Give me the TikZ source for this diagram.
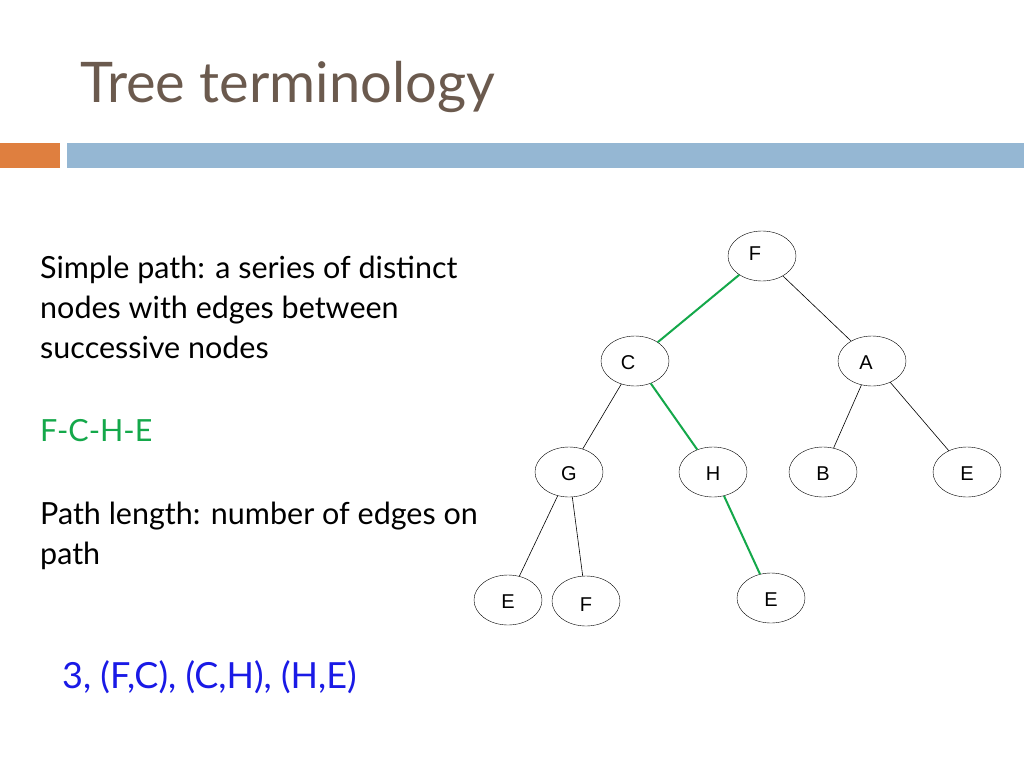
\documentclass[tikz,border=0pt]{standalone}
\usepackage{fontspec}
\setmainfont{Lato}
\newfontfamily\arial{Liberation Sans}
\usetikzlibrary{shapes.geometric}
\definecolor{titlec}{HTML}{6B5A4E}
\definecolor{orangec}{HTML}{DF7F3F}
\definecolor{bluec}{HTML}{95B7D3}
\definecolor{greenc}{HTML}{14A84A}
\definecolor{bluet}{HTML}{1A1AE6}
\begin{document}
\begin{tikzpicture}[x=1pt,y=-1pt,
  tn/.style={draw,ellipse,minimum width=68pt,minimum height=50pt,inner sep=0pt,font=\arial\fontsize{20}{24}\selectfont},
  ed/.style={draw,line width=0.6pt},
  gr/.style={draw=greenc,line width=2pt},
  txt/.style={anchor=base west,font=\fontsize{30.5}{36}\selectfont,inner sep=0pt}]
\useasboundingbox[fill=white] (0,0) rectangle (1024,768);
\node[anchor=base west,inner sep=0pt,text=titlec,font=\fontsize{56}{60}\selectfont] (title) at (80,102) {Tree terminology};
\fill[orangec] (0,143) rectangle (60,168);
\fill[bluec] (67,143) rectangle (1024,168);
\node[txt] (t1) at (40,278) {Simple path: a series of distinct};
\node[txt] (t2) at (40,318) {nodes with edges between};
\node[txt] (t3) at (40,358) {successive nodes};
\node[txt,text=greenc] (t4) at (40,441) {F-C-H-E};
\node[txt] (t5) at (40,524) {Path length: number of edges on};
\node[txt] (t6) at (40,564) {path};
\node[txt,text=bluet,font=\fontsize{36}{42}\selectfont] (t7) at (62,688) {3, (F,C), (C,H), (H,E)};
\node[tn] (F) at (762,256) {};
\node[tn] (C) at (635,361) {};
\node[tn] (A) at (872,361) {};
\node[tn] (G) at (569,472) {};
\node[tn] (H) at (713,472) {};
\node[tn] (B) at (823,472) {};
\node[tn] (E1) at (967,472) {};
\node[tn] (E2) at (508,600) {};
\node[tn] (F2) at (586,601) {};
\node[tn] (E3) at (771,598) {};
\begin{scope}[every node/.style={font=\arial\fontsize{20}{24}\selectfont,inner sep=0pt}]
\node (lF) at ([shift={(-7,-2)}]F.center) {F};
\node (lC) at ([shift={(-7,2)}]C.center) {C};
\node (lA) at ([shift={(-6,2)}]A.center) {A};
\node (lG) at ([shift={(0,2)}]G.center) {G};
\node (lH) at ([shift={(0,2)}]H.center) {H};
\node (lB) at ([shift={(0,2)}]B.center) {B};
\node (lE1) at ([shift={(0,2)}]E1.center) {E};
\node (lE2) at ([shift={(0,2)}]E2.center) {E};
\node (lF2) at ([shift={(0,4)}]F2.center) {F};
\node (lE3) at ([shift={(0,2)}]E3.center) {E};
\end{scope}
\draw[gr] (F) -- (C);
\draw[gr] (C) -- (H);
\draw[gr] (H) -- (E3);
\draw[ed] (F) -- (A);
\draw[ed] (C) -- (G);
\draw[ed] (A) -- (B);
\draw[ed] (A) -- (E1);
\draw[ed] (G) -- (E2);
\draw[ed] (G) -- (F2);
\end{tikzpicture}
\end{document}
